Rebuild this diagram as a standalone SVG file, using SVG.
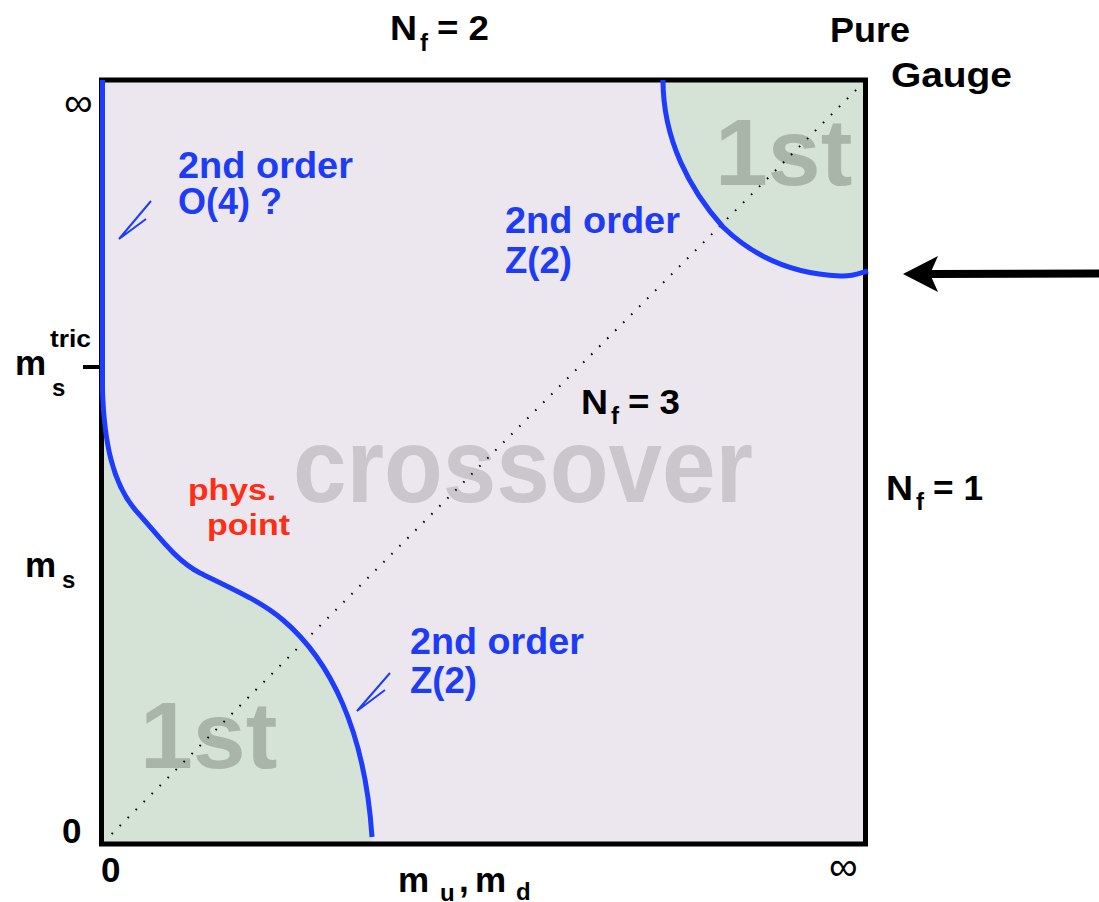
<svg xmlns="http://www.w3.org/2000/svg" width="1099" height="902" viewBox="0 0 1099 902">
<style>
text{font-family:"Liberation Sans",Arial,sans-serif;font-weight:bold;}
.lbl{fill:#000;font-size:35px;}
.sub{fill:#000;font-size:24px;}
.blue{fill:#1e3cf5;font-size:36px;}
.red{fill:#ff2d14;font-size:30px;}
.big1{fill:#a8b5a8;font-size:95px;}
.inf{fill:#000;font-weight:normal;font-size:40px;}
.bl{fill:none;stroke:#1e3cff;stroke-width:5;stroke-linecap:butt;}
.thin{fill:none;stroke:#1e3cff;stroke-width:2;}
</style>
<rect width="1099" height="902" fill="#fff"/>
<g id="plot">
<rect x="101.5" y="80" width="764" height="764" fill="#ece7ee"/>
<path id="green-bl" d="M102,390 C104,440 112,485 138,513 C158,535 175,560 200,573 C235,590 262,602 283,620 C330,660 365,730 372,844 L102,844 Z" fill="#d5e2d6"/>
<path id="green-tr" d="M663,80 C663,140 690,190 723,227 C755,258 795,274 840,276 C852,277 860,273 866,271 L866,80 Z" fill="#d5e2d6"/>
<text class="big1" x="140" y="768">1st</text>
<text class="big1" x="715" y="185">1st</text>
<text x="293" y="502" font-size="106" fill="#cbc6cb" textLength="460" lengthAdjust="spacingAndGlyphs">crossover</text>
<line x1="111.7" y1="834" x2="858" y2="88" stroke="#000" stroke-width="2" stroke-dasharray="1.6 9.7"/>
<rect x="101.5" y="80" width="764" height="764" fill="none" stroke="#000" stroke-width="5"/>
<line x1="83" y1="367" x2="101" y2="367" stroke="#000" stroke-width="4"/>
</g>
<g id="transition-lines">
<path class="bl" d="M102.5,80 L102.5,390 C104,440 112,485 138,513 C158,535 175,560 200,573 C235,590 262,602 283,620 C330,660 365,730 372,837"/>
<path class="bl" d="M663,80 C663,140 690,190 723,227 C755,258 795,274 840,276 C852,277 860,273 868,271"/>
</g>
<g id="connectors">
<path class="thin" d="M151,201 L119,239 L146,219"/>
<path class="thin" d="M390,673 L357,711 L385,690"/>
<line x1="1099" y1="273.5" x2="930" y2="274" stroke="#000" stroke-width="8"/>
<polygon points="903,274 938,256 930,274 938,292" fill="#000"/>
</g>
<g id="label-nf2">
<text class="lbl" x="390" y="40" textLength="27" lengthAdjust="spacingAndGlyphs">N</text>
<text class="sub" x="420" y="51">f</text>
<text class="lbl" x="437" y="40" textLength="52" lengthAdjust="spacingAndGlyphs">= 2</text>
</g>
<g id="label-pure-gauge">
<text class="lbl" x="830" y="42" textLength="80" lengthAdjust="spacingAndGlyphs">Pure</text>
<text class="lbl" x="891" y="87" textLength="121" lengthAdjust="spacingAndGlyphs">Gauge</text>
</g>
<g id="label-nf3">
<text class="lbl" x="581" y="414" textLength="27" lengthAdjust="spacingAndGlyphs">N</text>
<text class="sub" x="611" y="424">f</text>
<text class="lbl" x="628" y="414" textLength="52" lengthAdjust="spacingAndGlyphs">= 3</text>
</g>
<g id="label-nf1">
<text class="lbl" x="886" y="500" textLength="27" lengthAdjust="spacingAndGlyphs">N</text>
<text class="sub" x="916" y="510">f</text>
<text class="lbl" x="933" y="500" textLength="50" lengthAdjust="spacingAndGlyphs">= 1</text>
</g>
<g id="label-o4">
<text class="blue" x="178" y="178" textLength="175" lengthAdjust="spacingAndGlyphs">2nd order</text>
<text class="blue" x="178" y="214" textLength="104" lengthAdjust="spacingAndGlyphs">O(4) ?</text>
</g>
<g id="label-z2-top">
<text class="blue" x="505" y="233" textLength="175" lengthAdjust="spacingAndGlyphs">2nd order</text>
<text class="blue" x="505" y="273" textLength="67" lengthAdjust="spacingAndGlyphs">Z(2)</text>
</g>
<g id="label-z2-bottom">
<text class="blue" x="410" y="654" textLength="174" lengthAdjust="spacingAndGlyphs">2nd order</text>
<text class="blue" x="410" y="693" textLength="67" lengthAdjust="spacingAndGlyphs">Z(2)</text>
</g>
<g id="label-phys">
<text class="red" x="188" y="500" textLength="88" lengthAdjust="spacingAndGlyphs">phys.</text>
<text class="red" x="207" y="535" textLength="83" lengthAdjust="spacingAndGlyphs">point</text>
</g>
<g id="axis-labels">
<text class="inf" x="64" y="116">∞</text>
<text class="inf" x="829" y="880">∞</text>
<text class="lbl" x="15" y="375" font-size="40">m</text>
<text class="sub" x="52" y="396" font-size="28">s</text>
<text class="sub" x="50" y="347" textLength="41" lengthAdjust="spacingAndGlyphs">tric</text>
<text class="lbl" x="25" y="577" font-size="40">m</text>
<text class="sub" x="62" y="588" font-size="28">s</text>
<text class="lbl" x="62" y="843">0</text>
<text class="lbl" x="101" y="882">0</text>
<text class="lbl" x="398" y="892" font-size="40">m</text>
<text class="sub" x="440" y="901" font-size="28">u</text>
<text class="lbl" x="459" y="892">,</text>
<text class="lbl" x="475" y="892" font-size="40">m</text>
<text class="sub" x="516" y="900" font-size="28">d</text>
</g>
</svg>
